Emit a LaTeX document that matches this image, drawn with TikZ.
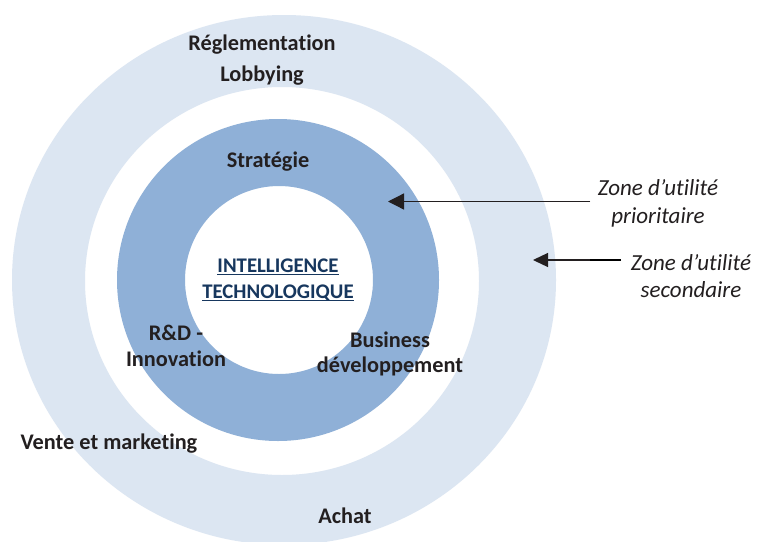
\documentclass[tikz,border=0pt]{standalone}
\usepackage{fontspec}
\setmainfont[Ligatures={NoCommon}]{Carlito}
\usetikzlibrary{arrows.meta}
\definecolor{ringlight}{HTML}{DCE6F2}
\definecolor{ringdark}{HTML}{8FB0D7}
\definecolor{txt}{HTML}{231F20}
\definecolor{navy}{HTML}{17375E}
\begin{document}
\begin{tikzpicture}[x=1pt,y=-1pt,
  lab/.style={font=\fontsize{22.3}{26}\selectfont\bfseries, text=txt, inner sep=0pt, anchor=base},
  zone/.style={font=\fontsize{23}{27}\selectfont\itshape, text=txt, inner sep=0pt, anchor=base},
  core/.style={font=\fontsize{20.8}{24}\selectfont\bfseries, text=navy, inner sep=0pt, anchor=base},
  uline/.style={draw=navy, line width=1.1pt},
  pointer/.style={-{Triangle[length=16pt,width=16pt]}, line width=1.3pt, draw=txt, fill=txt}]
\useasboundingbox (0,0) rectangle (757,541);
\clip (0,0) rectangle (757,541);
\fill[white] (0,0) rectangle (757,541);
% rings
\fill[ringlight, even odd rule] (284,280) ellipse [x radius=272pt, y radius=265pt]
  (282,281) ellipse [x radius=197pt, y radius=194pt];
\fill[ringdark, even odd rule] (278,280) circle [radius=161pt]
  (279,280) circle [radius=94pt];
% outer ring labels
\node[lab] (regl) at (262,50) {Réglementation};
\node[lab] (lobb) at (262,81) {Lobbying};
\node[lab] (vente) at (109,449) {Vente et marketing};
\node[lab] (achat) at (345,523) {Achat};
% inner ring labels
\node[lab] (strat) at (268,167) {Stratégie};
\node[lab] (rd) at (176,340) {R\&D -};
\node[lab] (innov) at (176,366) {Innovation};
\node[lab] (busi) at (390,347) {Business};
\node[lab] (devel) at (390,372) {développement};
% core
\node[core] (it1) at (278,272) {INTELLIGENCE};
\node[core] (it2) at (278,298) {TECHNOLOGIQUE};
\draw[uline] ([yshift=-2.8pt]it1.base west) -- ([yshift=-2.8pt]it1.base east);
\draw[uline] ([yshift=-2.8pt]it2.base west) -- ([yshift=-2.8pt]it2.base east);
% zone labels
\node[zone] (z1a) at (658,195) {Zone d’utilité};
\node[zone] (z1b) at (658,223) {prioritaire};
\node[zone] (z2a) at (691,270) {Zone d’utilité};
\node[zone] (z2b) at (691,297) {secondaire};
% arrows
\coordinate (p1s) at (590,201.5);
\coordinate (p1e) at (388,201.5);
\draw[pointer] (p1s) -- (p1e);
\coordinate (p2s) at (621,260);
\coordinate (p2m) at (590,260);
\coordinate (p2e) at (533,260);
\draw[line width=2.6pt, draw=black] (p2s) -- (p2m);
\draw[pointer, -{Triangle[length=15pt,width=14pt]}] (p2m) -- (p2e);
\end{tikzpicture}
\end{document}
